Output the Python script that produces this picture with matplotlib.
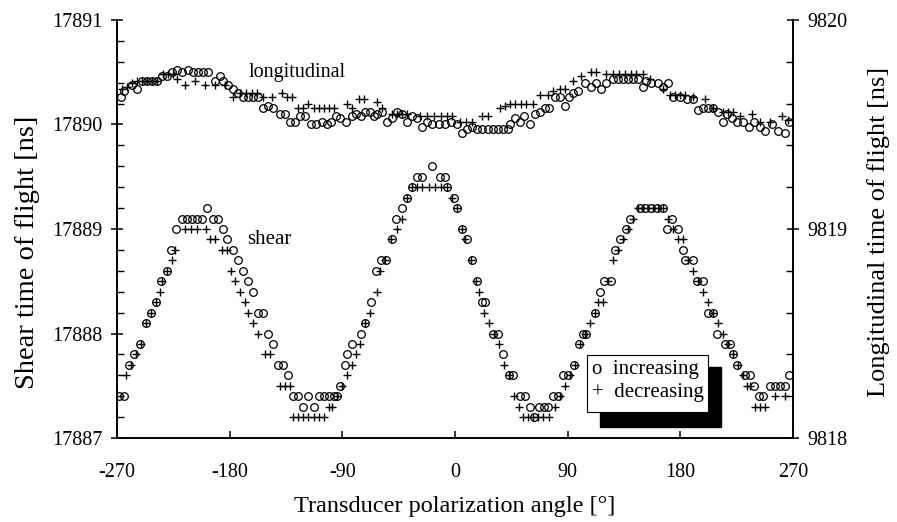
import numpy as np
import matplotlib
matplotlib.use("Agg")
import matplotlib.pyplot as plt
from matplotlib.patches import Rectangle
from matplotlib.ticker import MultipleLocator

plt.rcParams['font.family'] = ['Liberation Serif', 'DejaVu Serif']

# shear wave, increasing angle (o)
shear_inc_angle = [-268, -264, -260, -256, -252, -247, -243, -239, -235, -230,
                   -227, -223, -218, -214, -210, -206, -202, -198, -193, -189,
                   -185, -182, -177, -173, -169, -165, -161, -157, -153, -149,
                   -145, -141, -137, -133, -129, -125, -121, -117, -113, -109,
                   -105, -101, -97, -94, -92, -88, -86, -82, -75, -72,
                   -67, -63, -59, -55, -50, -47, -42, -38, -34, -30,
                   -26, -18, -12, -8, -6, -1, 2, 6, 10, 14,
                   18, 22, 24, 30, 34, 38, 43, 46, 52, 56,
                   60, 63, 67, 71, 74, 78, 82, 86, 90, 95,
                   99, 102, 105, 112, 116, 119, 125, 128, 132, 137,
                   140, 148, 152, 157, 161, 166, 169, 173, 178, 182,
                   184, 190, 193, 198, 202, 206, 209, 216, 220, 222,
                   225, 232, 236, 239, 243, 246, 252, 256, 260, 264, 267]
shear_inc = [17887.4, 17887.4, 17887.7, 17887.8, 17887.9, 17888.1, 17888.2, 17888.3, 17888.5, 17888.6,
             17888.8, 17889.0, 17889.1, 17889.1, 17889.1, 17889.1, 17889.1, 17889.2, 17889.1, 17889.1,
             17889.0, 17888.9, 17888.8, 17888.7, 17888.6, 17888.5, 17888.4, 17888.2, 17888.2, 17888.0,
             17887.9, 17887.7, 17887.7, 17887.6, 17887.4, 17887.4, 17887.3, 17887.4, 17887.3, 17887.4,
             17887.4, 17887.4, 17887.4, 17887.4, 17887.5, 17887.7, 17887.8, 17887.9, 17888.0, 17888.1,
             17888.3, 17888.6, 17888.7, 17888.7, 17888.9, 17889.1, 17889.2, 17889.3, 17889.4, 17889.5,
             17889.5, 17889.6, 17889.5, 17889.5, 17889.4, 17889.3, 17889.2, 17889.0, 17888.9, 17888.7,
             17888.5, 17888.3, 17888.3, 17888.0, 17888.0, 17887.8, 17887.6, 17887.6, 17887.4, 17887.4,
             17887.3, 17887.2, 17887.3, 17887.3, 17887.3, 17887.4, 17887.4, 17887.6, 17887.6, 17887.7,
             17887.9, 17888.0, 17888.0, 17888.2, 17888.4, 17888.5, 17888.5, 17888.8, 17888.9, 17889.0,
             17889.1, 17889.2, 17889.2, 17889.2, 17889.2, 17889.2, 17889.0, 17889.1, 17889.0, 17888.8,
             17888.7, 17888.7, 17888.5, 17888.5, 17888.2, 17888.2, 17888.0, 17887.9, 17887.9, 17887.8,
             17887.7, 17887.6, 17887.6, 17887.5, 17887.4, 17887.4, 17887.5, 17887.5, 17887.5, 17887.5, 17887.6]

# shear wave, decreasing angle (+)
shear_dec_angle = [-263, -259, -255, -251, -247, -243, -239, -236, -234, -230,
                   -226, -224, -216, -211, -206, -199, -196, -192, -186, -182,
                   -179, -176, -172, -168, -165, -161, -157, -152, -148, -140,
                   -136, -132, -129, -125, -121, -117, -113, -109, -105, -101,
                   -98, -94, -90, -86, -82, -79, -76, -72, -68, -62,
                   -60, -56, -51, -46, -42, -38, -34, -30, -26, -21,
                   -16, -11, -6, -2, 2, 6, 8, 13, 17, 19,
                   23, 27, 31, 35, 39, 43, 47, 51, 54, 58,
                   62, 66, 70, 75, 80, 84, 88, 92, 96, 100,
                   104, 108, 112, 114, 118, 122, 126, 130, 134, 138,
                   142, 146, 150, 154, 158, 162, 166, 170, 174, 178,
                   182, 186, 190, 194, 198, 202, 206, 210, 214, 218,
                   222, 226, 230, 233, 236, 240, 244, 248, 256, 264]
shear_dec = [17887.6, 17887.7, 17887.8, 17887.9, 17888.1, 17888.2, 17888.3, 17888.4, 17888.5, 17888.6,
             17888.7, 17888.8, 17889.0, 17889.0, 17889.0, 17889.0, 17888.9, 17888.9, 17888.8, 17888.8,
             17888.6, 17888.5, 17888.4, 17888.3, 17888.2, 17888.1, 17888.0, 17887.8, 17887.8, 17887.5,
             17887.5, 17887.5, 17887.2, 17887.2, 17887.2, 17887.2, 17887.2, 17887.2, 17887.2, 17887.3,
             17887.3, 17887.4, 17887.5, 17887.6, 17887.7, 17887.8, 17887.9, 17888.1, 17888.2, 17888.4,
             17888.6, 17888.7, 17888.9, 17889.0, 17889.1, 17889.3, 17889.4, 17889.4, 17889.4, 17889.4,
             17889.4, 17889.4, 17889.4, 17889.3, 17889.2, 17889.0, 17888.9, 17888.7, 17888.5, 17888.4,
             17888.2, 17888.1, 17888.0, 17887.9, 17887.7, 17887.6, 17887.4, 17887.3, 17887.2, 17887.2,
             17887.2, 17887.2, 17887.2, 17887.2, 17887.3, 17887.4, 17887.5, 17887.6, 17887.7, 17887.9,
             17888.0, 17888.1, 17888.2, 17888.3, 17888.3, 17888.5, 17888.7, 17888.8, 17888.9, 17889.0,
             17889.1, 17889.2, 17889.2, 17889.2, 17889.2, 17889.2, 17889.2, 17889.1, 17889.0, 17888.9,
             17888.9, 17888.7, 17888.6, 17888.5, 17888.4, 17888.3, 17888.2, 17888.1, 17888.0, 17887.9,
             17887.8, 17887.7, 17887.6, 17887.5, 17887.5, 17887.3, 17887.3, 17887.3, 17887.4, 17887.4]

# longitudinal wave, increasing angle (o)
long_inc_angle = [-267, -264, -258, -254, -250, -246, -242, -238, -234, -230,
                  -226, -222, -218, -213, -209, -205, -201, -197, -192, -188,
                  -185, -181, -177, -173, -169, -165, -161, -157, -153, -149,
                  -145, -140, -136, -132, -128, -124, -120, -115, -111, -106,
                  -102, -99, -95, -92, -87, -82, -79, -75, -72, -68,
                  -65, -62, -58, -54, -50, -46, -42, -38, -34, -30,
                  -26, -22, -18, -13, -8, -3, 2, 6, 10, 14,
                  18, 22, 26, 30, 34, 38, 42, 44, 48, 52,
                  55, 60, 64, 68, 72, 75, 80, 84, 88, 91,
                  94, 98, 104, 109, 113, 117, 121, 126, 130, 134,
                  138, 142, 146, 150, 153, 157, 162, 166, 170, 174,
                  180, 185, 190, 194, 198, 202, 206, 210, 214, 217,
                  221, 225, 230, 235, 239, 244, 248, 253, 258, 264, 267]
long_inc = [9819.63, 9819.66, 9819.69, 9819.67, 9819.71, 9819.71, 9819.71, 9819.71, 9819.73, 9819.73,
            9819.75, 9819.76, 9819.75, 9819.76, 9819.75, 9819.75, 9819.75, 9819.75, 9819.71, 9819.73,
            9819.71, 9819.69, 9819.67, 9819.65, 9819.63, 9819.63, 9819.63, 9819.63, 9819.58, 9819.59,
            9819.58, 9819.55, 9819.55, 9819.51, 9819.51, 9819.54, 9819.54, 9819.50, 9819.50, 9819.51,
            9819.50, 9819.51, 9819.54, 9819.53, 9819.51, 9819.54, 9819.55, 9819.54, 9819.56, 9819.56,
            9819.54, 9819.55, 9819.56, 9819.51, 9819.53, 9819.56, 9819.55, 9819.51, 9819.54, 9819.53,
            9819.49, 9819.51, 9819.50, 9819.50, 9819.50, 9819.51, 9819.50, 9819.46, 9819.48, 9819.49,
            9819.48, 9819.48, 9819.48, 9819.48, 9819.48, 9819.48, 9819.48, 9819.50, 9819.53, 9819.51,
            9819.54, 9819.50, 9819.55, 9819.56, 9819.58, 9819.58, 9819.63, 9819.63, 9819.59, 9819.63,
            9819.65, 9819.66, 9819.70, 9819.68, 9819.70, 9819.67, 9819.70, 9819.72, 9819.72, 9819.72,
            9819.72, 9819.72, 9819.72, 9819.68, 9819.71, 9819.70, 9819.70, 9819.68, 9819.70, 9819.63,
            9819.63, 9819.62, 9819.62, 9819.57, 9819.58, 9819.58, 9819.58, 9819.56, 9819.51, 9819.55,
            9819.53, 9819.51, 9819.51, 9819.49, 9819.51, 9819.49, 9819.47, 9819.50, 9819.47, 9819.46, 9819.51]

# longitudinal wave, decreasing angle (+)
long_dec_angle = [-266, -262, -258, -254, -250, -246, -242, -238, -233, -229,
                  -225, -222, -216, -208, -200, -192, -184, -177, -172, -167,
                  -162, -158, -153, -146, -138, -134, -130, -125, -121, -117,
                  -113, -109, -105, -101, -97, -86, -82, -77, -73, -62,
                  -58, -50, -46, -42, -38, -28, -22, -17, -11, -6,
                  -2, 4, 9, 14, 22, 26, 36, 40, 44, 48,
                  53, 57, 62, 68, 74, 78, 84, 88, 94, 101,
                  109, 113, 121, 126, 131, 136, 141, 145, 150, 156,
                  166, 172, 176, 180, 184, 190, 200, 206, 214, 218,
                  222, 228, 237, 244, 252, 261, 266]
long_dec = [9819.67, 9819.68, 9819.70, 9819.71, 9819.71, 9819.71, 9819.71, 9819.71, 9819.74, 9819.74,
            9819.74, 9819.72, 9819.69, 9819.71, 9819.69, 9819.69, 9819.69, 9819.63, 9819.65, 9819.65,
            9819.65, 9819.65, 9819.63, 9819.63, 9819.65, 9819.63, 9819.63, 9819.58, 9819.58, 9819.60,
            9819.58, 9819.58, 9819.58, 9819.58, 9819.58, 9819.60, 9819.58, 9819.62, 9819.62, 9819.61,
            9819.58, 9819.55, 9819.55, 9819.55, 9819.55, 9819.54, 9819.54, 9819.54, 9819.54, 9819.54,
            9819.54, 9819.51, 9819.51, 9819.51, 9819.54, 9819.54, 9819.58, 9819.59, 9819.60, 9819.60,
            9819.60, 9819.60, 9819.60, 9819.64, 9819.64, 9819.66, 9819.67, 9819.67, 9819.71, 9819.73,
            9819.75, 9819.75, 9819.74, 9819.74, 9819.74, 9819.74, 9819.74, 9819.74, 9819.74, 9819.72,
            9819.67, 9819.64, 9819.64, 9819.64, 9819.64, 9819.63, 9819.62, 9819.58, 9819.56, 9819.56,
            9819.56, 9819.54, 9819.55, 9819.51, 9819.51, 9819.54, 9819.52]

x_ticks = [-270, -180, -90, 0, 90, 180, 270]

fig = plt.figure(figsize=(8.97, 5.22), dpi=100)
ax = fig.add_axes([0.1304, 0.1609, 0.7536, 0.8008])
ax2 = ax.twinx()

mk = dict(linestyle='none', color='black')
ax.plot(shear_inc_angle, shear_inc, marker='o', markersize=5.5, markerfacecolor='none',
        markeredgewidth=0.9, **mk)
ax.plot(shear_dec_angle, shear_dec, marker='+', markersize=6, markeredgewidth=1.0, **mk)
ax2.plot(long_inc_angle, long_inc, marker='o', markersize=5.5, markerfacecolor='none',
         markeredgewidth=0.9, **mk)
ax2.plot(long_dec_angle, long_dec, marker='+', markersize=6, markeredgewidth=1.0, **mk)

ax.set_xlim(-270, 270)
ax.set_ylim(17887, 17891)
ax2.set_ylim(9818, 9820)
ax.set_xticks(x_ticks)
ax.set_xticklabels([str(t) for t in x_ticks])
ax.set_yticks([17887, 17888, 17889, 17890, 17891])
ax.yaxis.set_minor_locator(MultipleLocator(0.2))
ax2.set_yticks([9818, 9819, 9820])
ax2.yaxis.set_minor_locator(MultipleLocator(0.2))

for a in (ax, ax2):
    a.spines['top'].set_visible(False)
    for s in a.spines.values():
        s.set_linewidth(1.2)
ax.tick_params(axis='y', which='major', direction='inout', length=9, width=1.1, labelsize=14.5, pad=6)
ax.tick_params(axis='y', which='minor', direction='in', length=5, width=1.0)
ax.tick_params(axis='x', which='major', direction='in', length=5, width=1.1, labelsize=14.5, pad=18)
ax2.tick_params(axis='y', which='major', direction='inout', length=9, width=1.1, labelsize=14.5, pad=6)
ax2.tick_params(axis='y', which='minor', direction='in', length=5, width=1.0)

ax.set_xlabel('Transducer polarization angle [°]', fontsize=17.5, labelpad=10)
ax.set_ylabel('Shear time of flight [ns]', fontsize=20.5, va='center')
ax.yaxis.set_label_coords(-0.133, 0.445)
ax2.set_ylabel('Longitudinal time of flight [ns]', fontsize=19, va='center')
ax2.yaxis.set_label_coords(1.127, 0.493)

ax.text(0.195, 0.875, 'longitudinal', transform=ax.transAxes, fontsize=14.5, va='center')
ax.text(0.193, 0.475, 'shear', transform=ax.transAxes, fontsize=15, va='center')

# legend box with heavy drop shadow
ax.add_patch(Rectangle((0.7145, 0.026), 0.179, 0.1435, transform=ax.transAxes,
                       facecolor='black', edgecolor='black', zorder=5, clip_on=False))
ax.add_patch(Rectangle((0.6953, 0.0622), 0.179, 0.1364, transform=ax.transAxes,
                       facecolor='white', edgecolor='black', linewidth=0.8, zorder=6, clip_on=False))
ax.text(0.703, 0.163, 'o  increasing', transform=ax.transAxes, fontsize=15, va='center', zorder=7)
ax.text(0.703, 0.108, '+  decreasing', transform=ax.transAxes, fontsize=15, va='center', zorder=7)

fig.savefig('out.png', dpi=100)
